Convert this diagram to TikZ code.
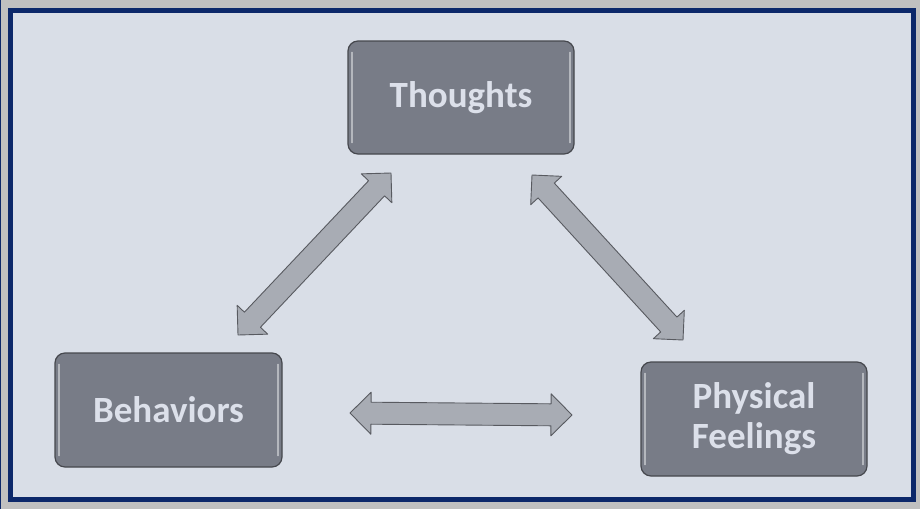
\documentclass[tikz,border=0pt]{standalone}
\usepackage{fontspec}
\setmainfont{Carlito}
\usetikzlibrary{calc}

\definecolor{pagegray}{RGB}{192,192,192}
\definecolor{framenavy}{RGB}{12,40,106}
\definecolor{panelfill}{RGB}{217,222,231}
\definecolor{boxfill}{RGB}{120,124,135}
\definecolor{boxline}{RGB}{70,72,78}
\definecolor{boxtext}{RGB}{220,224,234}
\definecolor{arrowfill}{RGB}{168,172,180}
\definecolor{arrowline}{RGB}{88,90,96}

\tikzset{
  topic/.style={rectangle, rounded corners=10pt, draw=boxline, line width=1.2pt,
    fill=boxfill, text=boxtext, font=\bfseries\fontsize{37}{40}\selectfont,
    align=center, inner sep=0pt},
  gloss/.style={draw=white, draw opacity=0.45, line width=1.4pt, line cap=round},
  blockarrow/.style={draw=arrowline, line width=0.9pt, fill=arrowfill, line join=round},
}

% double-headed block arrow between two named coordinates
\newcommand\twowayarrow[2]{%
  \def\hl{21pt}\def\hh{21pt}\def\sw{11pt}%
  \path[blockarrow] (#1)
    -- ($(#1)!\hl!(#2)!\hh!90:(#2)$)
    -- ($(#1)!\hl!(#2)!\sw!90:(#2)$)
    -- ($(#2)!\hl!(#1)!\sw!-90:(#1)$)
    -- ($(#2)!\hl!(#1)!\hh!-90:(#1)$)
    -- (#2)
    -- ($(#2)!\hl!(#1)!\hh!90:(#1)$)
    -- ($(#2)!\hl!(#1)!\sw!90:(#1)$)
    -- ($(#1)!\hl!(#2)!\sw!-90:(#2)$)
    -- ($(#1)!\hl!(#2)!\hh!-90:(#2)$)
    -- cycle;}

% side highlights inside a box
\newcommand\boxgloss[1]{%
  \draw[gloss] ([xshift=4.5pt,yshift=-12pt]#1.north west) -- ([xshift=4.5pt,yshift=12pt]#1.south west);
  \draw[gloss] ([xshift=-4.5pt,yshift=-12pt]#1.north east) -- ([xshift=-4.5pt,yshift=12pt]#1.south east);}

\begin{document}
\begin{tikzpicture}[x=1pt,y=-1pt]
  % page and framed panel
  \fill[pagegray] (0,0) rectangle (920,509);
  \useasboundingbox (0,0) rectangle (920,509);
  \draw[framenavy, line width=1pt] (0.5,0) -- (0.5,509);
  \fill[panelfill] (10.5,10.5) rectangle (913.5,499.5);
  \draw[framenavy, line width=5pt] (10.5,10.5) rectangle (913.5,499.5);

  % topics
  \node[topic, minimum width=226pt, minimum height=113pt] (thoughts) at (461,97.5) {Thoughts};
  \node[topic, minimum width=227pt, minimum height=114pt] (behaviors) at (168.5,410) {Behaviors};
  \node[topic, minimum width=226pt, minimum height=114pt] (feelings) at (754,419) {Physical\\Feelings};
  \boxgloss{thoughts}
  \boxgloss{behaviors}
  \boxgloss{feelings}

  % arrow end points
  \coordinate (tb1) at (391,173);
  \coordinate (tb2) at (238,335);
  \coordinate (tf1) at (532,175);
  \coordinate (tf2) at (683,340);
  \coordinate (bf1) at (350,413);
  \coordinate (bf2) at (572,415);

  \twowayarrow{tb1}{tb2}
  \twowayarrow{tf1}{tf2}
  \twowayarrow{bf1}{bf2}
\end{tikzpicture}
\end{document}
